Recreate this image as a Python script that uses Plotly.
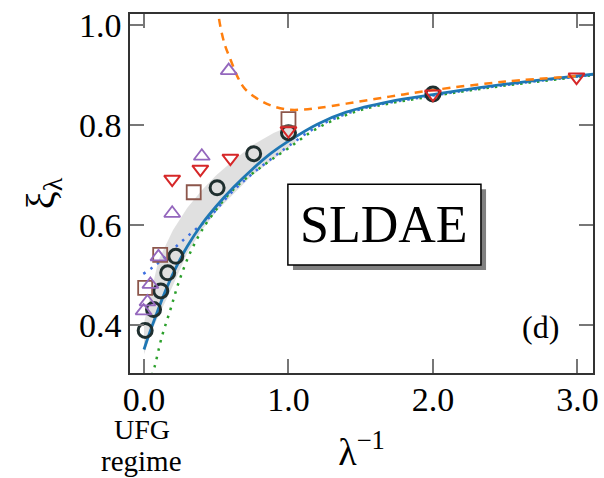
import plotly.graph_objects as go

# ---------------- data ----------------
circ_x = [0.008, 0.066, 0.116, 0.164, 0.22, 0.506, 0.759, 1.0, 2.0]
circ_y = [0.390, 0.432, 0.469, 0.505, 0.538, 0.675, 0.743, 0.785, 0.862]

tdown_x = [0.195, 0.39, 0.598, 1.0, 2.0, 2.994]
tdown_y = [0.692, 0.712, 0.734, 0.789, 0.862, 0.896]

tup_x = [-0.003, 0.024, 0.044, 0.10, 0.195, 0.40, 0.586]
tup_y = [0.429, 0.447, 0.482, 0.537, 0.624, 0.738, 0.909]

sq_x = [0.008, 0.112, 0.344, 1.0]
sq_y = [0.475, 0.541, 0.666, 0.812]

solid_x = [0.0, 0.03, 0.08, 0.15, 0.22, 0.3, 0.4, 0.5, 0.62, 0.75, 0.88, 1.0, 1.2, 1.4, 1.7, 2.0, 2.4, 2.8, 3.15]
solid_y = [0.352, 0.378, 0.418, 0.47, 0.515, 0.558, 0.602, 0.638, 0.676, 0.712, 0.744, 0.768, 0.802, 0.826, 0.847, 0.861, 0.878, 0.892, 0.903]

orange_x = [0.505, 0.53, 0.56, 0.6, 0.65, 0.7, 0.8, 0.9, 1.0, 1.1, 1.2, 1.4, 1.7, 2.0, 2.5, 3.0]
orange_y = [1.04, 0.995, 0.96, 0.93, 0.895, 0.872, 0.85, 0.837, 0.831, 0.831, 0.834, 0.843, 0.857, 0.870, 0.887, 0.898]

bdot_x = [-0.005, 0.06, 0.15, 0.25, 0.35, 0.45, 0.6, 0.75, 0.9, 1.0, 1.2, 1.5, 2.0, 2.5, 3.15]
bdot_y = [0.503, 0.516, 0.538, 0.565, 0.59, 0.615, 0.664, 0.703, 0.737, 0.758, 0.797, 0.832, 0.859, 0.88, 0.902]

green_x = [0.055, 0.073, 0.123, 0.181, 0.238, 0.307, 0.377, 0.448, 0.62, 0.828, 1.0, 1.2, 1.5, 2.0, 2.5, 3.15]
green_y = [0.30, 0.317, 0.377, 0.43, 0.484, 0.537, 0.578, 0.611, 0.672, 0.72, 0.754, 0.794, 0.83, 0.858, 0.879, 0.901]

band_x = [0.0, 0.05, 0.1, 0.2, 0.3, 0.4, 0.5, 0.6, 0.75, 0.9, 1.0, 1.05]
band_hi = [0.405, 0.47, 0.53, 0.59, 0.635, 0.67, 0.70, 0.725, 0.76, 0.785, 0.797, 0.792]
band_lo = [0.342, 0.388, 0.42, 0.48, 0.545, 0.59, 0.627, 0.657, 0.70, 0.733, 0.755, 0.768]

x_ticks = [0.0, 1.0, 2.0, 3.0]
x_tick_labels = ["0.0", "1.0", "2.0", "3.0"]
y_ticks = [0.4, 0.6, 0.8, 1.0]
y_tick_labels = ["0.4", "0.6", "0.8", "1.0"]

FONT = "Liberation Serif"

fig = go.Figure()

# uncertainty band
fig.add_trace(go.Scatter(
    x=band_x + band_x[::-1], y=band_hi + band_lo[::-1],
    fill="toself", fillcolor="rgba(218,218,218,0.85)",
    line=dict(width=0), mode="lines", hoverinfo="skip", showlegend=False))

fig.add_trace(go.Scatter(x=green_x, y=green_y, mode="lines",
                         line=dict(color="#2ca02c", width=2.5, dash="2.5px,6px", shape="spline")))
fig.add_trace(go.Scatter(x=bdot_x, y=bdot_y, mode="lines",
                         line=dict(color="#3d6fe0", width=2.5, dash="2.5px,6px", shape="spline")))
fig.add_trace(go.Scatter(x=solid_x, y=solid_y, mode="lines",
                         line=dict(color="#1f77b4", width=2.8, shape="spline")))
fig.add_trace(go.Scatter(x=orange_x, y=orange_y, mode="lines",
                         line=dict(color="#ff7f0e", width=2.5, dash="8px,6px", shape="spline")))

fig.add_trace(go.Scatter(x=circ_x, y=circ_y, mode="markers",
                         marker=dict(symbol="circle-open", size=14, color="#1f2f2f",
                                     line=dict(width=3, color="#1f2f2f"))))
fig.add_trace(go.Scatter(x=sq_x, y=sq_y, mode="markers",
                         marker=dict(symbol="square-open", size=14, color="#8c564b",
                                     line=dict(width=1.8, color="#8c564b"))))
fig.add_trace(go.Scatter(x=tup_x, y=tup_y, mode="markers",
                         marker=dict(symbol="triangle-up-open", size=14, color="#9467bd",
                                     line=dict(width=1.8, color="#9467bd"))))
fig.add_trace(go.Scatter(x=tdown_x, y=tdown_y, mode="markers",
                         marker=dict(symbol="triangle-down-open", size=14, color="#d62728",
                                     line=dict(width=2, color="#d62728"))))

# SLDAE box with shadow
bx0, bx1, by0, by1 = 0.341, 0.758, 0.301, 0.526
dx, dy = 0.011, 0.014
fig.add_shape(type="rect", xref="paper", yref="paper",
              x0=bx0 + dx, x1=bx1 + dx, y0=by0 - dy, y1=by1 - dy,
              fillcolor="#808080", line=dict(width=0), layer="above")
fig.add_shape(type="rect", xref="paper", yref="paper",
              x0=bx0, x1=bx1, y0=by0, y1=by1,
              fillcolor="white", line=dict(width=1.5, color="black"), layer="above")
fig.add_annotation(text="SLDAE", xref="paper", yref="paper", x=0.5495, y=0.414,
                   xanchor="center", yanchor="middle",
                   showarrow=False, font=dict(family=FONT, size=52, color="black"))

fig.add_annotation(text="(d)", xref="paper", yref="paper", x=0.887, y=0.128,
                   xanchor="center", yanchor="middle",
                   showarrow=False, font=dict(family=FONT, size=32, color="black"))
fig.add_annotation(text="UFG", xref="paper", yref="paper", x=0.025, y=-0.158,
                   xanchor="center", yanchor="middle", showarrow=False,
                   font=dict(family=FONT, size=28, color="black"))
fig.add_annotation(text="regime", xref="paper", yref="paper", x=0.025, y=-0.245,
                   xanchor="center", yanchor="middle", showarrow=False,
                   font=dict(family=FONT, size=29, color="black"))

fig.update_layout(
    width=604, height=478,
    margin=dict(l=130, r=11, t=14, b=105, autoexpand=False),
    paper_bgcolor="white", plot_bgcolor="white",
    showlegend=False,
    font=dict(family=FONT, size=34, color="black"),
    xaxis=dict(range=[-0.097, 3.108], tickvals=x_ticks, ticktext=x_tick_labels,
               ticks="inside", ticklen=14, tickwidth=1.5, tickcolor="#777",
               showline=True, linecolor="#333", linewidth=1.5, mirror="ticks",
               showgrid=False, zeroline=False, automargin=False,
               ticklabelstandoff=-5,
               title=dict(text="λ<sup>−1</sup>", standoff=22, font=dict(size=38)),
               tickfont=dict(family=FONT, size=34)),
    yaxis=dict(range=[0.305, 1.022], tickvals=y_ticks, ticktext=y_tick_labels,
               ticks="inside", ticklen=14, tickwidth=1.5, tickcolor="#777",
               showline=True, linecolor="#333", linewidth=1.5, mirror="ticks",
               showgrid=False, zeroline=False, automargin=False,
               title=dict(text="ξ<sub>λ</sub>", standoff=12, font=dict(size=40)),
               tickfont=dict(family=FONT, size=34)),
)

fig.write_html("out.html")
